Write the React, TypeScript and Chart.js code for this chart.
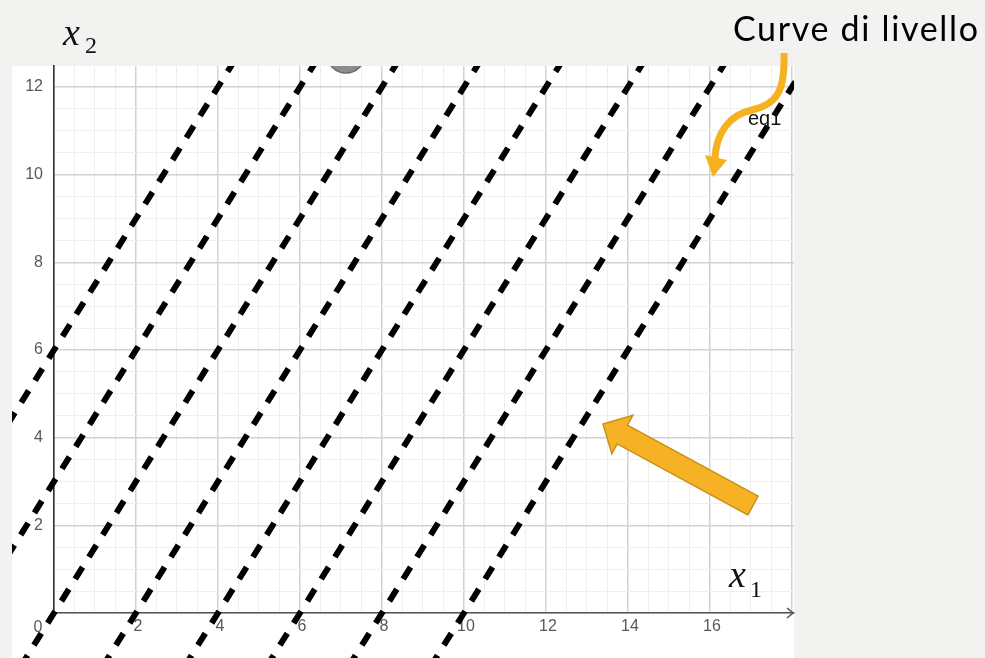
import React, { useEffect, useRef } from 'react';
import { Chart, registerables } from 'chart.js';

Chart.register(...registerables);

// ---- data ----
// dashed level lines, each given by two end points (x1, x2)
const lineStartX = [-6, -4, -2, 0, 2, 4, 6, 8];
const lineStartY = [-3, -3, -3, -3, -3, -3, -3, -3];
const lineEndX = [6, 8, 10, 12, 14, 16, 18, 20];
const lineEndY = [15, 15, 15, 15, 15, 15, 15, 15];

const xTickValues = [2, 4, 6, 8, 10, 12, 14, 16];
const yTickValues = [2, 4, 6, 8, 10, 12];
const originLabel = '0';
const xRange = [0, 18.05];
const yRange = [0, 12.48];

const titleText = 'Curve di livello';
const seriesLabel = 'eq1';
const xAxisName = ['x', '1'];
const yAxisName = ['x', '2'];

// ---- layout ----
const W = 985;
const H = 658;
const PLOT = { left: 12, top: 66, right: 794, bottom: 658 };

const ORANGE = '#F5B120';
const TICK_COLOR = '#585858';
const TICK_FONT = 16;

const decorPlugin = {
  id: 'decor',
  beforeDraw(chart: any) {
    const ctx = chart.ctx;
    ctx.save();
    ctx.fillStyle = '#f2f2f1';
    ctx.fillRect(0, 0, W, H);
    ctx.fillStyle = '#ffffff';
    ctx.fillRect(PLOT.left, PLOT.top, PLOT.right - PLOT.left, PLOT.bottom - PLOT.top);
    ctx.restore();
  },
  beforeDatasetsDraw(chart: any) {
    const { ctx, scales, chartArea } = chart;
    const x0 = scales.x.getPixelForValue(0);
    const y0 = scales.y.getPixelForValue(0);
    ctx.save();
    // origin label
    ctx.fillStyle = TICK_COLOR;
    ctx.font = `${TICK_FONT}px "Liberation Sans", Arial, sans-serif`;
    ctx.textAlign = 'center';
    ctx.textBaseline = 'middle';
    ctx.fillText(originLabel, x0 - 16, y0 + 15);
    // x-axis arrow head
    ctx.strokeStyle = '#555';
    ctx.lineWidth = 1.6;
    ctx.beginPath();
    ctx.moveTo(chartArea.right - 7, y0 - 5);
    ctx.lineTo(chartArea.right - 1, y0);
    ctx.lineTo(chartArea.right - 7, y0 + 5);
    ctx.stroke();
    ctx.restore();
  },
  afterDatasetsDraw(chart: any) {
    const ctx = chart.ctx;
    ctx.save();
    ctx.beginPath();
    ctx.rect(PLOT.left, PLOT.top, PLOT.right - PLOT.left, PLOT.bottom - PLOT.top);
    ctx.clip();
    ctx.beginPath();
    ctx.arc(346, 54, 19, 0, Math.PI * 2);
    ctx.fillStyle = '#8c8c8c';
    ctx.fill();
    ctx.strokeStyle = '#6a6a6a';
    ctx.lineWidth = 1.5;
    ctx.stroke();
    ctx.restore();
  },
  afterDraw(chart: any) {
    const ctx = chart.ctx;
    ctx.save();

    // title
    const size = 34;
    ctx.font = `${size}px Lato, "Open Sans", sans-serif`;
    ctx.fillStyle = '#000';
    ctx.textAlign = 'left';
    ctx.textBaseline = 'alphabetic';
    const w = ctx.measureText(titleText).width;
    const spacing = Math.max(0, (245 - w) / (titleText.length - 1));
    (ctx as any).letterSpacing = `${spacing}px`;
    ctx.fillText(titleText, 733, 41);
    (ctx as any).letterSpacing = '0px';

    // axis names
    ctx.fillStyle = '#111';
    ctx.font = 'italic 38px "Liberation Serif", serif';
    ctx.fillText(yAxisName[0], 63, 45);
    ctx.font = '24px "Liberation Serif", serif';
    ctx.fillText(yAxisName[1], 85, 53);
    ctx.font = 'italic 38px "Liberation Serif", serif';
    ctx.fillText(xAxisName[0], 729, 587);
    ctx.font = '24px "Liberation Serif", serif';
    ctx.fillText(xAxisName[1], 750, 597);

    // series label
    ctx.fillStyle = '#111';
    ctx.font = '20px "Liberation Sans", Arial, sans-serif';
    ctx.fillText(seriesLabel, 748, 125);

    // curved orange arrow
    ctx.strokeStyle = ORANGE;
    ctx.lineWidth = 7;
    ctx.lineCap = 'butt';
    ctx.beginPath();
    ctx.moveTo(784, 53);
    ctx.bezierCurveTo(785, 90, 778, 104, 752, 110);
    ctx.bezierCurveTo(728, 115, 716, 135, 715, 158);
    ctx.stroke();
    ctx.fillStyle = ORANGE;
    ctx.beginPath();
    ctx.moveTo(705, 155);
    ctx.lineTo(727, 160);
    ctx.lineTo(713, 177);
    ctx.closePath();
    ctx.fill();

    // block arrow
    const tip = { x: 603, y: 424 };
    const tail = { x: 753, y: 505.5 };
    const dx = tip.x - tail.x;
    const dy = tip.y - tail.y;
    const L = Math.hypot(dx, dy);
    const ux = dx / L, uy = dy / L;
    const nx = -uy, ny = ux;
    const headLen = 22, shaft = 10.7, head = 22;
    const hb = { x: tip.x - ux * headLen, y: tip.y - uy * headLen };
    const pts = [
      [tail.x + nx * shaft, tail.y + ny * shaft],
      [hb.x + nx * shaft, hb.y + ny * shaft],
      [hb.x + nx * head, hb.y + ny * head],
      [tip.x, tip.y],
      [hb.x - nx * head, hb.y - ny * head],
      [hb.x - nx * shaft, hb.y - ny * shaft],
      [tail.x - nx * shaft, tail.y - ny * shaft],
    ];
    ctx.beginPath();
    pts.forEach((p, i) => (i === 0 ? ctx.moveTo(p[0], p[1]) : ctx.lineTo(p[0], p[1])));
    ctx.closePath();
    ctx.fillStyle = '#F6B224';
    ctx.fill();
    ctx.strokeStyle = '#C8921A';
    ctx.lineWidth = 1.5;
    ctx.lineJoin = 'miter';
    ctx.stroke();

    ctx.restore();
  },
};

const isMajor = (v: number) => Math.abs(v % 2) < 1e-9;

export default function App() {
  const ref = useRef<HTMLCanvasElement | null>(null);

  useEffect(() => {
    if (!ref.current) return;
    Chart.defaults.font.family = '"Liberation Sans", Arial, sans-serif';
    const datasets = lineStartX.map((sx, i) => ({
      label: `livello ${i + 1}`,
      data: [
        { x: sx, y: lineStartY[i] },
        { x: lineEndX[i], y: lineEndY[i] },
      ],
      borderColor: '#000000',
      backgroundColor: '#000000',
      borderWidth: 6,
      borderDash: [14, 12],
      borderDashOffset: 13,
      borderCapStyle: 'butt' as const,
      pointRadius: 0,
      pointHoverRadius: 0,
      fill: false,
      tension: 0,
      clip: { left: 42, top: 0, right: 0, bottom: 45 },
    }));

    const chart = new Chart(ref.current, {
      type: 'line',
      data: { datasets },
      plugins: [decorPlugin],
      options: {
        responsive: false,
        animation: false,
        devicePixelRatio: 1,
        events: [],
        layout: { padding: { left: PLOT.left, top: PLOT.top, right: W - PLOT.right, bottom: 0 } },
        plugins: {
          legend: { display: false },
          tooltip: { enabled: false },
        },
        scales: {
          x: {
            type: 'linear',
            min: xRange[0],
            max: xRange[1],
            afterFit: (s: any) => {
              s.height = 45;
            },
            ticks: {
              stepSize: 0.5,
              maxTicksLimit: 200,
              autoSkip: false,
              maxRotation: 0,
              minRotation: 0,
              includeBounds: false,
              padding: 4,
              labelOffset: 2,
              color: TICK_COLOR,
              font: { size: TICK_FONT },
              callback: (v: any) => (xTickValues.includes(Number(v)) ? String(v) : ''),
            },
            grid: {
              drawTicks: false,
              color: (c: any) => (c.tick && isMajor(c.tick.value) ? '#d2d2d2' : '#efefef'),
              lineWidth: (c: any) => (c.tick && isMajor(c.tick.value) ? 1.5 : 1),
            },
            border: { color: '#555', width: 1.6 },
          },
          y: {
            type: 'linear',
            min: yRange[0],
            max: yRange[1],
            afterFit: (s: any) => {
              s.width = 42;
            },
            ticks: {
              stepSize: 0.5,
              maxTicksLimit: 200,
              autoSkip: false,
              includeBounds: false,
              padding: 11,
              color: TICK_COLOR,
              font: { size: TICK_FONT },
              callback: (v: any) => (yTickValues.includes(Number(v)) ? String(v) : ''),
            },
            grid: {
              drawTicks: false,
              color: (c: any) => (c.tick && isMajor(c.tick.value) ? '#d2d2d2' : '#efefef'),
              lineWidth: (c: any) => (c.tick && isMajor(c.tick.value) ? 1.5 : 1),
            },
            border: { color: '#333', width: 1.6 },
          },
        },
      },
    } as any);

    return () => chart.destroy();
  }, []);

  return (
    <div style={{ position: 'fixed', left: 0, top: 0, width: W, height: H }}>
      <canvas ref={ref} width={W} height={H} style={{ display: 'block', width: W, height: H }} />
    </div>
  );
}
